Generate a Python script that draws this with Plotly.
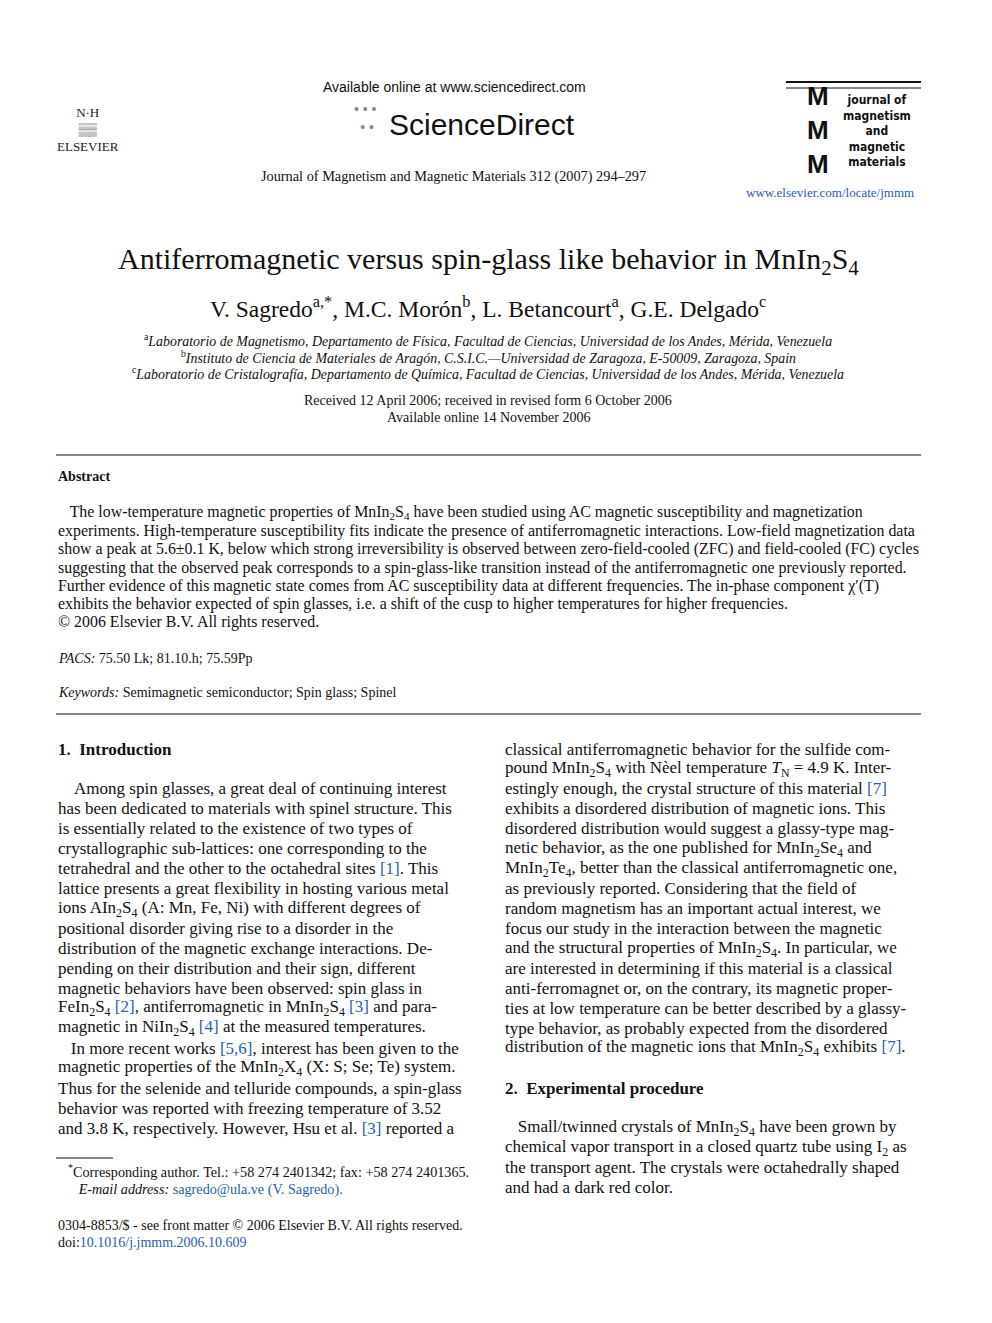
import plotly.graph_objects as go

W, H = 992, 1323
SERIF = "Liberation Serif"
OFF = 8  # page body margin of the html page

# ---- page text content ----
header_lines = ["Available online at www.sciencedirect.com",
                "Journal of Magnetism and Magnetic Materials 312 (2007) 294–297"]
title = "Antiferromagnetic versus spin-glass like behavior in MnIn<sub>2</sub>S<sub>4</sub>"
authors = "V. Sagredo<sup>a,*</sup>, M.C. Morón<sup>b</sup>, L. Betancourt<sup>a</sup>, G.E. Delgado<sup>c</sup>"
affiliations = [
    "<sup>a</sup><i>Laboratorio de Magnetismo, Departamento de Física, Facultad de Ciencias, Universidad de los Andes, Mérida, Venezuela</i>",
    "<sup>b</sup><i>Instituto de Ciencia de Materiales de Aragón, C.S.I.C.—Universidad de Zaragoza, E-50009, Zaragoza, Spain</i>",
    "<sup>c</sup><i>Laboratorio de Cristalografía, Departamento de Química, Facultad de Ciencias, Universidad de los Andes, Mérida, Venezuela</i>",
]
dates = ["Received 12 April 2006; received in revised form 6 October 2006",
         "Available online 14 November 2006"]
abstract_lines = [
    "   The low-temperature magnetic properties of MnIn<sub>2</sub>S<sub>4</sub> have been studied using AC magnetic susceptibility and magnetization",
    "experiments. High-temperature susceptibility fits indicate the presence of antiferromagnetic interactions. Low-field magnetization data",
    "show a peak at 5.6±0.1 K, below which strong irreversibility is observed between zero-field-cooled (ZFC) and field-cooled (FC) cycles",
    "suggesting that the observed peak corresponds to a spin-glass-like transition instead of the antiferromagnetic one previously reported.",
    "Further evidence of this magnetic state comes from AC susceptibility data at different frequencies. The in-phase component χ′(T)",
    "exhibits the behavior expected of spin glasses, i.e. a shift of the cusp to higher temperatures for higher frequencies.",
    "© 2006 Elsevier B.V. All rights reserved.",
]
left_col = [
    "<b>1.  Introduction</b>", "",
    "    Among spin glasses, a great deal of continuing interest",
    "has been dedicated to materials with spinel structure. This",
    "is essentially related to the existence of two types of",
    "crystallographic sub-lattices: one corresponding to the",
    "tetrahedral and the other to the octahedral sites <span style='color:#2a5db0'>[1]</span>. This",
    "lattice presents a great flexibility in hosting various metal",
    "ions AIn<sub>2</sub>S<sub>4</sub> (A: Mn, Fe, Ni) with different degrees of",
    "positional disorder giving rise to a disorder in the",
    "distribution of the magnetic exchange interactions. De-",
    "pending on their distribution and their sign, different",
    "magnetic behaviors have been observed: spin glass in",
    "FeIn<sub>2</sub>S<sub>4</sub> <span style='color:#2a5db0'>[2]</span>, antiferromagnetic in MnIn<sub>2</sub>S<sub>4</sub> <span style='color:#2a5db0'>[3]</span> and para-",
    "magnetic in NiIn<sub>2</sub>S<sub>4</sub> <span style='color:#2a5db0'>[4]</span> at the measured temperatures.",
    "   In more recent works <span style='color:#2a5db0'>[5,6]</span>, interest has been given to the",
    "magnetic properties of the MnIn<sub>2</sub>X<sub>4</sub> (X: S; Se; Te) system.",
    "Thus for the selenide and telluride compounds, a spin-glass",
    "behavior was reported with freezing temperature of 3.52",
    "and 3.8 K, respectively. However, Hsu et al. <span style='color:#2a5db0'>[3]</span> reported a",
]
right_col = [
    "classical antiferromagnetic behavior for the sulfide com-",
    "pound MnIn<sub>2</sub>S<sub>4</sub> with Nèel temperature <i>T</i><sub>N</sub> = 4.9 K. Inter-",
    "estingly enough, the crystal structure of this material <span style='color:#2a5db0'>[7]</span>",
    "exhibits a disordered distribution of magnetic ions. This",
    "disordered distribution would suggest a glassy-type mag-",
    "netic behavior, as the one published for MnIn<sub>2</sub>Se<sub>4</sub> and",
    "MnIn<sub>2</sub>Te<sub>4</sub>, better than the classical antiferromagnetic one,",
    "as previously reported. Considering that the field of",
    "random magnetism has an important actual interest, we",
    "focus our study in the interaction between the magnetic",
    "and the structural properties of MnIn<sub>2</sub>S<sub>4</sub>. In particular, we",
    "are interested in determining if this material is a classical",
    "anti-ferromagnet or, on the contrary, its magnetic proper-",
    "ties at low temperature can be better described by a glassy-",
    "type behavior, as probably expected from the disordered",
    "distribution of the magnetic ions that MnIn<sub>2</sub>S<sub>4</sub> exhibits <span style='color:#2a5db0'>[7]</span>.",
    "", "<b>2.  Experimental procedure</b>", "",
    "   Small/twinned crystals of MnIn<sub>2</sub>S<sub>4</sub> have been grown by",
    "chemical vapor transport in a closed quartz tube using I<sub>2</sub> as",
    "the transport agent. The crystals were octahedrally shaped",
    "and had a dark red color.",
]
footnotes = [
    "<sup>*</sup>Corresponding author. Tel.: +58 274 2401342; fax: +58 274 2401365.",
    "   <i>E-mail address:</i> <span style='color:#2a5db0'>sagredo@ula.ve (V. Sagredo).</span>",
]
bottom_lines = ["0304-8853/$ - see front matter © 2006 Elsevier B.V. All rights reserved.",
                "doi:<span style='color:#2a5db0'>10.1016/j.jmmm.2006.10.609</span>"]

fig = go.Figure()


def txt(s, x, y, size=15, anchor="left", family=SERIF, color="#111"):
    fig.add_annotation(text=s, x=(x - OFF) / W, y=1 - (y - OFF) / H,
                       xref="paper", yref="paper",
                       xanchor=anchor, yanchor="middle", showarrow=False,
                       font=dict(family=family, size=size, color=color))


def hline(x0, x1, y, w=1):
    fig.add_shape(type="line", xref="paper", yref="paper",
                  x0=(x0 - OFF) / W, x1=(x1 - OFF) / W,
                  y0=1 - (y - OFF) / H, y1=1 - (y - OFF) / H,
                  line=dict(color="#111", width=w))


# header
txt(header_lines[0], 454, 87, 14, "center", "Liberation Sans")
txt("ScienceDirect", 482, 125, 30, "center", "Liberation Sans")
txt("• • •<br> • •", 365, 118, 14, "center", "Liberation Sans", "#888")
txt(header_lines[1], 453, 176, 14.3, "center")
txt("N·H<br>▒▒<br>ELSEVIER", 88, 130, 13, "center", color="#222")
hline(786, 921, 82, 2)
hline(786, 921, 88, 1)
txt("<b>M</b><br><b>M</b><br><b>M</b>", 818, 130, 26, "center", "Liberation Sans")
txt("<b>journal of<br>magnetism<br>and<br>magnetic<br>materials</b>", 841, 131, 12,
    "left", "DejaVu Sans Condensed")
txt("www.elsevier.com/locate/jmmm", 830, 192, 13, "center", color="#2a5db0")

txt(title, 488, 261, 30, "center")
txt(authors, 488, 307, 23.5, "center")
for i, s in enumerate(affiliations):
    txt(s, 488, 340 + i * 16.5, 13.9, "center")
for i, s in enumerate(dates):
    txt(s, 488, 400 + i * 17, 14, "center")

hline(56, 921, 455)
txt("<b>Abstract</b>", 56, 477, 14)
for i, s in enumerate(abstract_lines):
    txt(s, 56, 513 + i * 18.2, 15.9)
txt("<i>PACS:</i> 75.50 Lk; 81.10.h; 75.59Pp", 56, 658, 14)
txt("<i>Keywords:</i> Semimagnetic semiconductor; Spin glass; Spinel", 56, 692, 14)
hline(56, 921, 714)

for i, s in enumerate(left_col):
    if s:
        txt(s, 56, 749 + i * 19.95, 17)
for i, s in enumerate(right_col):
    if s:
        txt(s, 503, 749 + i * 19.95, 17)

hline(56, 113, 1158)
for i, s in enumerate(footnotes):
    txt(s, 66, 1171 + i * 18, 14.2)
for i, s in enumerate(bottom_lines):
    txt(s, 56, 1225 + i * 17, 14)

fig.update_layout(width=W, height=H, margin=dict(l=0, r=0, t=0, b=0),
                  paper_bgcolor="white", plot_bgcolor="white",
                  xaxis=dict(visible=False), yaxis=dict(visible=False))
fig.write_html("out.html")
